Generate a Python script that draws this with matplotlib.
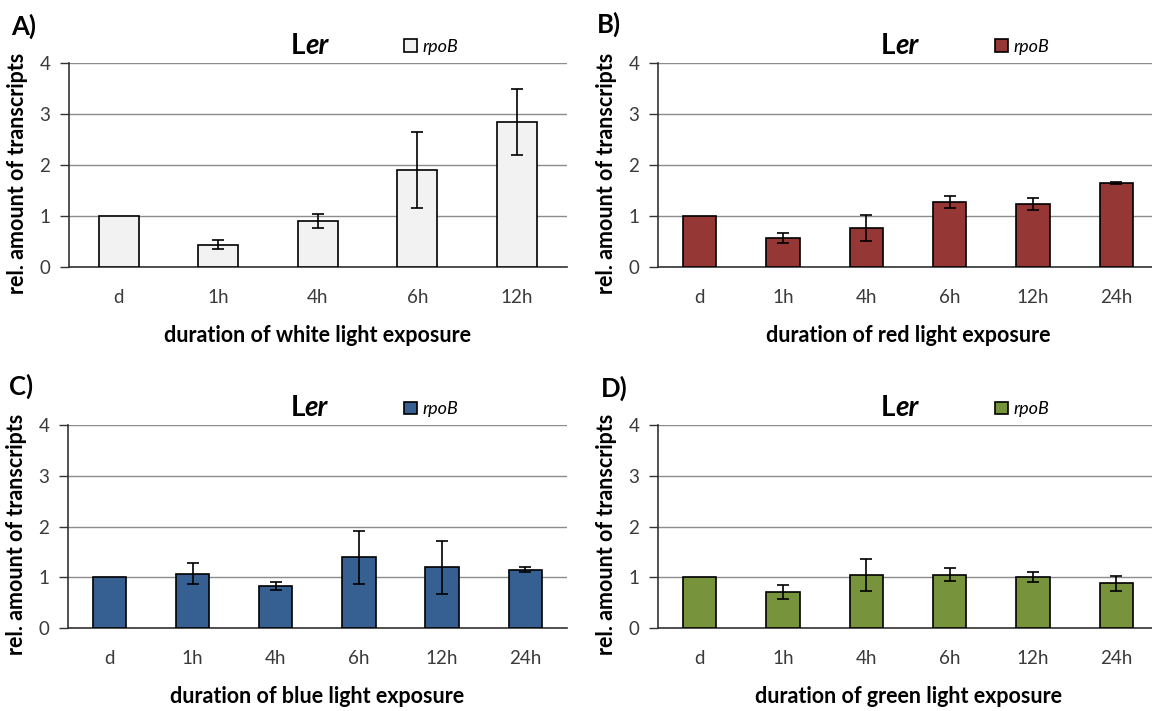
import matplotlib
matplotlib.use("Agg")
import matplotlib.pyplot as plt

plt.rcParams['font.family'] = ['Lato', 'DejaVu Sans']

cats_white = ['d', '1h', '4h', '6h', '12h']
cats_color = ['d', '1h', '4h', '6h', '12h', '24h']

white_vals = [1.00, 0.44, 0.90, 1.90, 2.84]
white_err = [0.00, 0.08, 0.13, 0.75, 0.65]

red_vals = [1.00, 0.57, 0.76, 1.27, 1.24, 1.65]
red_err = [0.00, 0.10, 0.25, 0.12, 0.12, 0.02]

blue_vals = [1.00, 1.07, 0.83, 1.39, 1.20, 1.15]
blue_err = [0.00, 0.21, 0.08, 0.53, 0.52, 0.05]

green_vals = [1.00, 0.71, 1.05, 1.05, 1.00, 0.88]
green_err = [0.00, 0.13, 0.32, 0.13, 0.10, 0.15]

panels = [
    ('A)', cats_white, white_vals, white_err, '#F2F2F2', 'duration of white light exposure'),
    ('B)', cats_color, red_vals, red_err, '#953735', 'duration of red light exposure'),
    ('C)', cats_color, blue_vals, blue_err, '#376092', 'duration of blue light exposure'),
    ('D)', cats_color, green_vals, green_err, '#77933C', 'duration of green light exposure'),
]

# axes rectangles in figure fraction (left, bottom, width, height)
rects = [
    (0.0599, 0.6245, 0.432, 0.287),
    (0.5712, 0.6245, 0.434, 0.287),
    (0.0590, 0.1167, 0.433, 0.2855),
    (0.5712, 0.1167, 0.434, 0.2855),
]
letter_pos = [(0.010, 0.963), (0.518, 0.966), (0.008, 0.456), (0.522, 0.454)]

fig = plt.figure(figsize=(11.52, 7.11), dpi=100)

for (letter, cats, vals, errs, color, xlab), rect, lp in zip(panels, rects, letter_pos):
    ax = fig.add_axes(rect)
    x = range(len(cats))
    yerr = [e if e > 0 else float('nan') for e in errs]
    ax.bar(x, vals, width=0.4, color=color, edgecolor='black', linewidth=1.2,
           label='rpoB', zorder=3)
    ax.errorbar(x, vals, yerr=yerr, fmt='none', ecolor='black', elinewidth=1.2,
                capsize=4, capthick=1.2, zorder=4)
    ax.set_xlim(-0.5, len(cats) - 0.5)
    ax.set_ylim(0, 4)
    ax.set_yticks([0, 1, 2, 3, 4])
    ax.set_xticks(list(x))
    ax.set_xticklabels(cats)
    ax.yaxis.grid(True, color='#8C8C8C', linewidth=1.0, zorder=0)
    ax.set_axisbelow(True)
    for s in ['top', 'right']:
        ax.spines[s].set_visible(False)
    for s in ['left', 'bottom']:
        ax.spines[s].set_color('#333333')
        ax.spines[s].set_linewidth(1.2)
    ax.tick_params(axis='y', length=6.5, width=1.0, color='#333333', pad=7,
                   labelsize=13.5, labelcolor='#3A3A3A')
    ax.tick_params(axis='x', length=0, pad=16, labelsize=13.5, labelcolor='#3A3A3A')
    ax.set_ylabel('rel. amount of transcripts', fontsize=15.5, fontweight='bold')
    ax.yaxis.set_label_coords(-0.083, 0.46)
    ax.set_xlabel(xlab, fontsize=15.5, fontweight='bold')
    ax.xaxis.set_label_coords(0.5, -0.337)
    ax.xaxis.label.set_va('center')

    # title "Ler" with italic "er"
    ax.text(0.475, 1.082, 'L', transform=ax.transAxes, ha='right', va='center',
            fontsize=20, fontweight='bold')
    ax.text(0.475, 1.082, 'er', transform=ax.transAxes, ha='left', va='center',
            fontsize=20, fontweight='bold', style='italic')

    ax.legend(loc='center left', bbox_to_anchor=(0.674, 1.078), frameon=False,
              prop={'style': 'italic', 'size': 13}, handlelength=0.7,
              handleheight=0.7, handletextpad=0.3, borderpad=0, borderaxespad=0)

    fig.text(lp[0], lp[1], letter, fontsize=18.5, fontweight='bold', ha='left', va='center')

fig.savefig('out.png', dpi=100)
